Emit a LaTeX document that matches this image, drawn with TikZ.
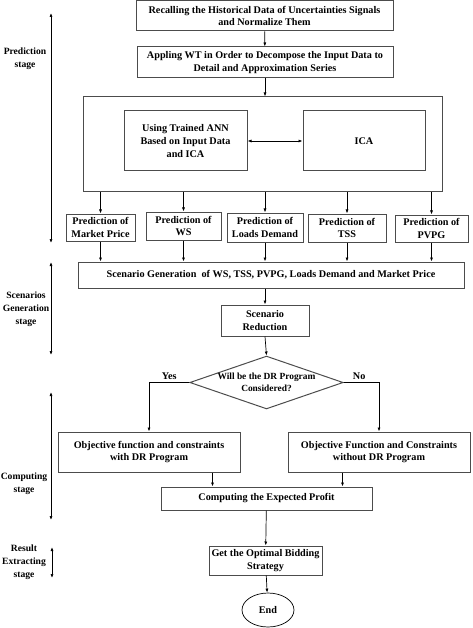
\documentclass[tikz,border=0pt]{standalone}
\usepackage{fontspec}
\setmainfont{Liberation Serif}
\usepackage{tikz}
\usetikzlibrary{arrows.meta,shapes.geometric}
\newcommand{\boxline}{black!70}

\begin{document}
\begin{tikzpicture}[x=1pt,y=-1pt,
	font=\fontsize{10.2}{12.8}\selectfont\bfseries,
	box/.style={draw=\boxline, line width=1pt, align=center, inner sep=1pt},
	arr/.style={-{Latex[length=4pt,width=3pt]}, line width=0.7pt},
	stagearr/.style={{Latex[length=4pt,width=3pt]}-{Latex[length=4pt,width=3pt]}, line width=0.7pt},
	stagelbl/.style={align=center, inner sep=0pt, font=\fontsize{9.6}{12.8}\selectfont\bfseries}]
	\useasboundingbox (0,0) rectangle (472,628);

	\node[box, minimum width=257, minimum height=30] (recall) at (264.5,16) {Recalling the Historical Data of Uncertainties Signals\\and Normalize Them};
	\node[box, minimum width=256, minimum height=31] (wt) at (265,62.5) {Appling WT in Order to Decompose the Input Data to\\Detail and Approximation Series};
	\node[box, minimum width=359, minimum height=95] (pred) at (262.5,144.5) {};
	\node[box, minimum width=123, minimum height=60] (ann) at (185.5,141) {Using Trained ANN\\Based on Input Data\\and ICA};
	\node[box, minimum width=122, minimum height=60] (ica) at (364,141) {ICA};

	\node[box, minimum width=69, minimum height=27] (mp) at (100.5,227.5) {Prediction of\\Market Price};
	\node[box, minimum width=75, minimum height=28] (ws) at (183.5,226) {Prediction of\\WS};
	\node[box, minimum width=76, minimum height=29] (ld) at (265,227.5) {Prediction of\\Loads Demand};
	\node[box, minimum width=78, minimum height=28] (tss) at (347,228) {Prediction of\\TSS};
	\node[box, minimum width=73, minimum height=27] (pvpg) at (431.5,228.5) {Prediction of\\PVPG};

	\node[box, minimum width=386, minimum height=26] (scen) at (271,275) {Scenario Generation\ \ of WS, TSS, PVPG, Loads Demand and Market Price};
	\node[box, minimum width=88, minimum height=31] (red) at (265,320.5) {Scenario\\Reduction};
	\node[draw=\boxline, line width=1pt, diamond, aspect=2.9, minimum width=143, minimum height=49, inner sep=0pt, align=center, font=\fontsize{9.4}{12.5}\selectfont\bfseries] (dec) at (266.5,382.5) {Will be the DR Program\\Considered?};

	\node[box, minimum width=182, minimum height=40] (objdr) at (149,452) {Objective function and constraints\\with DR Program};
	\node[box, minimum width=182, minimum height=40] (objnodr) at (379,452) {Objective Function and Constraints\\without DR Program};
	\node[box, minimum width=211, minimum height=23] (profit) at (266.5,498.5) {Computing the Expected Profit};
	\node[box, minimum width=113, minimum height=29] (bid) at (265.5,560.5) {Get the Optimal Bidding\\Strategy};
	\node[draw=black, line width=0.7pt, ellipse, minimum width=52, minimum height=34, inner sep=0pt] (end) at (268,610) {End};

	\draw[arr] (recall) -- (wt);
	\draw[arr] (wt.south) -- (wt.south |- pred.north);
	\draw[stagearr] (ann) -- (ica);
	\foreach \p in {mp,ws,ld,tss,pvpg}{
		\draw[arr] (\p.north |- pred.south) -- (\p.north);
		\draw[arr] (\p.south) -- (\p.south |- scen.north);
	}
	\draw[arr] (red.north |- scen.south) -- (red.north);
	\draw[arr] (red.south) -- (dec.north);
	\draw[arr] (dec.west) -| node[pos=0.25, above=-1pt] {Yes} (objdr.north);
	\draw[arr] (dec.east) -| node[pos=0.22, above=-1pt] {No} (objnodr.north);
	\draw[arr] ([xshift=52]profit.north west |- objdr.south) -- ([xshift=52]profit.north west);
	\draw[arr] ([xshift=-30]profit.north east |- objnodr.south) -- ([xshift=-30]profit.north east);
	\draw[arr] (profit) -- (bid);
	\draw[arr] (bid) -- (end);

	\coordinate (s1a) at (51,13);
	\coordinate (s1b) at (51,243);
	\coordinate (s2a) at (51,262);
	\coordinate (s2b) at (51,355);
	\coordinate (s3a) at (51,392);
	\coordinate (s3b) at (51,520);
	\coordinate (s4a) at (52,547);
	\coordinate (s4b) at (52,578);
	\draw[stagearr] (s1a) -- (s1b);
	\draw[stagearr] (s2a) -- (s2b);
	\draw[stagearr] (s3a) -- (s3b);
	\draw[stagearr] (s4a) -- (s4b);
	\node[stagelbl] (lpred) at (25,59) {Prediction\\stage};
	\node[stagelbl] (lscen) at (26,309) {Scenarios\\Generation\\stage};
	\node[stagelbl] (lcomp) at (24,484) {Computing\\stage};
	\node[stagelbl] (lres) at (24,562) {Result\\Extracting\\stage};
\end{tikzpicture}
\end{document}
